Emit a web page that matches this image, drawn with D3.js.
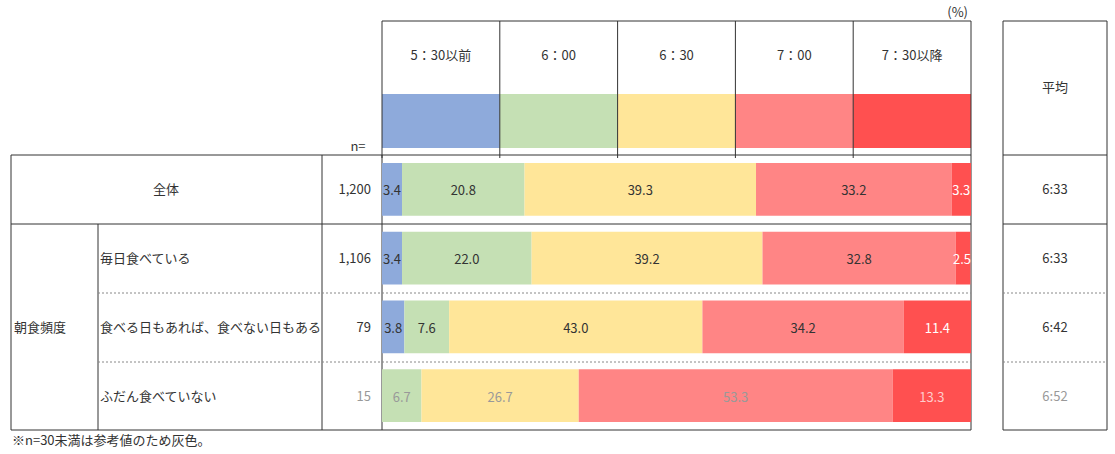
<!DOCTYPE html>
<html><head><meta charset="utf-8">
<script src="https://cdn.jsdelivr.net/npm/d3@7"></script>
<style>body{margin:0;background:#fff}text{font-family:"Noto Sans CJK JP",sans-serif;font-size:13px;fill:#333}</style>
</head><body><svg width="1115" height="454"></svg>
<script>
const categories = ["5：30以前", "6：00", "6：30", "7：00", "7：30以降"],
  colors = ["#8eaadb", "#c5e0b4", "#ffe699", "#ff8585", "#ff5050"],
  rowLabels = ["全体", "毎日食べている", "食べる日もあれば、食べない日もある", "ふだん食べていない"],
  groupLabel = "朝食頻度",
  nValues = ["1,200", "1,106", "79", "15"],
  averages = ["6:33", "6:33", "6:42", "6:52"],
  values = [
    [3.4, 20.8, 39.3, 33.2, 3.3],
    [3.4, 22.0, 39.2, 32.8, 2.5],
    [3.8, 7.6, 43.0, 34.2, 11.4],
    [0, 6.7, 26.7, 53.3, 13.3]
  ],
  grey = [false, false, false, true];

const svg = d3.select("svg");
const x = d3.scaleLinear().domain([0, 100]).range([382, 971]);
const y = d3.scaleBand().domain(d3.range(4)).range([155, 430]);
const hx = d3.scaleBand().domain(categories).range([382, 971]);
const line = (x1, y1, x2, y2, dash) => svg.append("line").attr("x1", x1).attr("y1", y1).attr("x2", x2).attr("y2", y2)
  .attr("stroke", dash ? "#888" : "#333").attr("stroke-dasharray", dash ? "2,2" : null).attr("stroke-width", 1);

// header
categories.forEach((c, i) => {
  svg.append("rect").attr("x", hx(c)).attr("y", 94).attr("width", hx.bandwidth()).attr("height", 54).attr("fill", colors[i]);
  svg.append("text").attr("x", hx(c) + hx.bandwidth() / 2).attr("y", 60).attr("text-anchor", "middle").text(c);
  line(hx(c), 21, hx(c), 158);
});
line(971, 21, 971, 430);
line(382, 21, 971, 21);
svg.append("text").attr("x", 968).attr("y", 17).attr("text-anchor", "end").text("(%)");
svg.append("text").attr("x", 358).attr("y", 151).attr("text-anchor", "middle").text("n=");

// left table
line(11, 155, 1003 - 32, 155);
line(11, 224, 971, 224);
line(11, 430, 971, 430);
line(11, 155, 11, 430);
line(98, 224, 98, 430);
line(322, 155, 322, 430);
line(382, 155, 382, 430);
[293, 362].forEach(v => line(98, v, 971, v, true));

// average box
line(1003, 21, 1107, 21); line(1003, 21, 1003, 430); line(1107, 21, 1107, 430);
line(1003, 155, 1107, 155); line(1003, 224, 1107, 224); line(1003, 430, 1107, 430);
[293, 362].forEach(v => line(1003, v, 1107, v, true));
svg.append("text").attr("x", 1055).attr("y", 92).attr("text-anchor", "middle").text("平均");

svg.append("text").attr("x", 14).attr("y", y(2) + y.bandwidth() / 2 + 5).text(groupLabel);

values.forEach((row, r) => {
  const cy = y(r) + y.bandwidth() / 2 + 5;
  const tc = grey[r] ? "#999" : "#333";
  if (r === 0) svg.append("text").attr("x", 166).attr("y", cy).attr("text-anchor", "middle").text(rowLabels[r]);
  else svg.append("text").attr("x", 100).attr("y", cy).text(rowLabels[r]);
  svg.append("text").attr("x", 371).attr("y", cy).attr("text-anchor", "end").style("fill", tc).text(nValues[r]);
  svg.append("text").attr("x", 1055).attr("y", cy).attr("text-anchor", "middle").style("fill", tc).text(averages[r]);
  let acc = 0;
  row.forEach((v, i) => {
    if (v > 0) {
      const x0 = x(acc), w = x(acc + v) - x(acc);
      svg.append("rect").attr("x", x0).attr("y", y(r) + 8).attr("width", w).attr("height", y.bandwidth() - 16).attr("fill", colors[i]);
      const light = i === 4;
      svg.append("text").attr("x", Math.min(x0 + w / 2, 962)).attr("y", cy + 1).attr("text-anchor", "middle")
        .style("fill", grey[r] ? (light ? "#fcc" : "#999") : (light ? "#fff" : "#333")).text(v.toFixed(1));
    }
    acc += v;
  });
});

svg.append("text").attr("x", 12).attr("y", 445).text("※n=30未満は参考値のため灰色。");
</script></body></html>
